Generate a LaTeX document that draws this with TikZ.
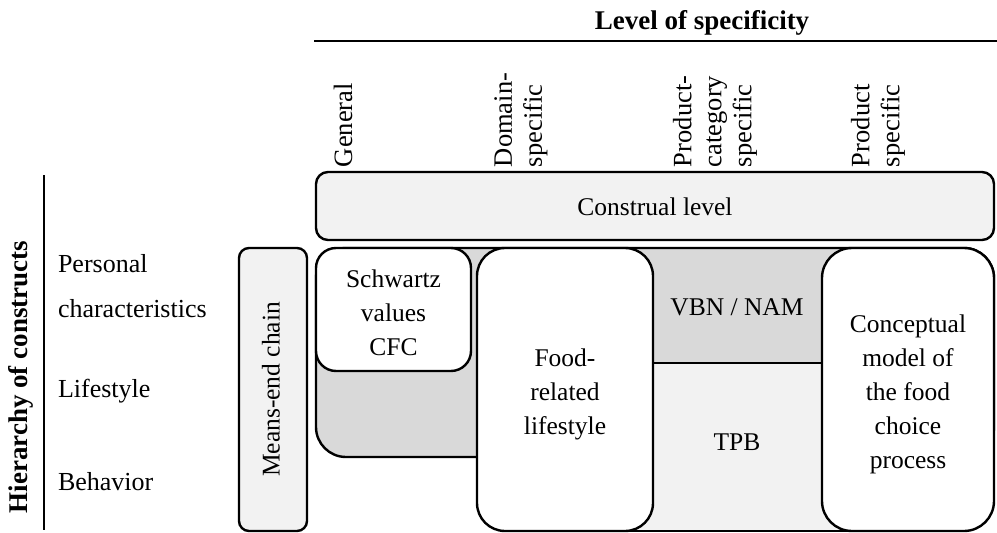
\documentclass[tikz,border=0pt]{standalone}
\usepackage{fontspec}
\setmainfont{Liberation Serif}
\usetikzlibrary{fit}
\definecolor{dgray}{HTML}{D9D9D9}
\definecolor{lgray}{HTML}{F2F2F2}
\begin{document}
\begin{tikzpicture}[x=1pt,y=-1pt,
  every node/.style={inner sep=0pt, outer sep=0pt},
  txt/.style={font=\fontsize{25.5}{34}\selectfont, align=center},
  toplab/.style={font=\fontsize{26.5}{30}\selectfont, align=left, rotate=90, anchor=west},
  sidelab/.style={font=\fontsize{26}{30}\selectfont, anchor=base west},
  bold/.style={font=\fontsize{27}{32}\selectfont\bfseries},
  box/.style={draw=black, line width=2.4pt},
  rule/.style={draw=black, line width=2pt}]
\useasboundingbox (0,0) rectangle (997,533);
% header
\coordinate (h1) at (314,41);
\coordinate (h2) at (997,41);
\draw[rule] (h1) -- (h2);
\node[bold, anchor=base] (los) at (702,29) {Level of specificity};
\node[toplab] (gen) at (343,167) {General};
\node[toplab] (dom) at (521,167) {Domain-\\specific};
\node[toplab] (pcs) at (715,167) {Product-\\category\\specific};
\node[toplab] (ps) at (878,167) {Product\\specific};
% left
\coordinate (v1) at (44,175);
\coordinate (v2) at (44,530);
\draw[rule] (v1) -- (v2);
\node[bold, rotate=90] (hoc) at (21,377) {Hierarchy of constructs};
\node[sidelab] (pers) at (58,272) {Personal};
\node[sidelab] (char) at (58,317) {characteristics};
\node[sidelab] (life) at (58,397) {Lifestyle};
\node[sidelab] (beh) at (58,490) {Behavior};
% boxes
\node[box, fill=lgray, rounded corners=12pt, fit={(316,172)(994,240)}] (cl) {};
\node[box, fill=lgray, rounded corners=10pt, fit={(239,248)(307,531)}] (me) {};
\node[box, fill=dgray, rounded corners=30pt, fit={(316,248)(994,457)}] (bg) {};
\node[box, fill=lgray, fit={(600,363)(870,531)}] (tpbbg) {};
\node[box, fill=white, rounded corners=20pt, fit={(316,248)(471,371)}] (sv) {};
\node[box, fill=white, rounded corners=28pt, fit={(477,248)(653,531)}] (frl) {};
\node[box, fill=white, rounded corners=30pt, fit={(822,248)(994,531)}] (cm) {};
% texts
\node[txt] (cltxt) at ([yshift=-1pt]cl.center) {Construal level};
\node[txt, rotate=90] (metxt) at ([xshift=-2pt]me.center) {Means-end chain};
\node[txt] (svtxt) at ([yshift=-3pt]sv.center) {Schwartz\\values\\CFC};
\node[txt] (frltxt) at ([yshift=-5pt]frl.center) {Food-\\related\\lifestyle};
\node[txt] (cmtxt) at ([yshift=-5pt]cm.center) {Conceptual\\model of\\the food\\choice\\process};
\node[txt] (vbn) at (737,307) {VBN / NAM};
\node[txt] (tpb) at (737,442) {TPB};
\end{tikzpicture}
\end{document}
